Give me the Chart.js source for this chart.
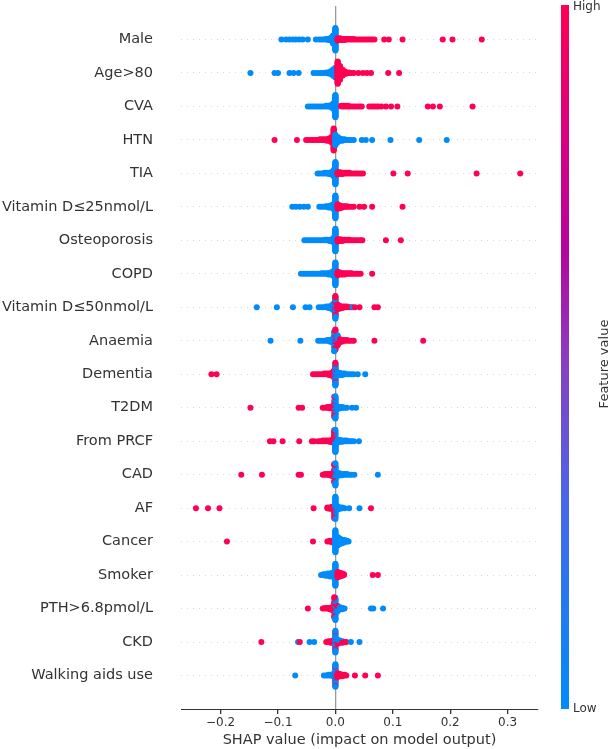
<!DOCTYPE html>
<html>
<head>
<meta charset="utf-8">
<script src="https://cdn.jsdelivr.net/npm/chart.js@4.4.0/dist/chart.umd.min.js"></script>
<style>
  html, body { margin: 0; padding: 0; background: #fff; }
  #wrap { width: 612px; height: 749px; }
</style>
</head>
<body>
<div id="wrap"><canvas id="shapChart" width="612" height="749"></canvas></div>
<script>
// feature names, top to bottom
const features = ['Male', 'Age>80', 'CVA', 'HTN', 'TIA', 'Vitamin D≤25nmol/L', 'Osteoporosis', 'COPD',
    'Vitamin D≤50nmol/L', 'Anaemia', 'Dementia', 'T2DM', 'From PRCF', 'CAD', 'AF', 'Cancer', 'Smoker',
    'PTH>6.8pmol/L', 'CKD', 'Walking aids use'];

const xTicks = [-0.2, -0.1, 0.0, 0.1, 0.2, 0.3];
const xMin = -0.269;
const xMax = 0.353;

// SHAP values for low feature values (blue), as [value, count]
const lowValues = [
    [[-0.094,1],[-0.086,1],[-0.080,1],[-0.074,1],[-0.069,1],[-0.063,1],[-0.057,1],[-0.048,1],[-0.034,1],[-0.028,1],[-0.024,1],[-0.020,1],[-0.016,2],[-0.012,3],[-0.008,6],[-0.004,15],[0,40]],
    [[-0.148,1],[-0.106,1],[-0.100,1],[-0.080,1],[-0.073,1],[-0.064,1],[-0.038,1],[-0.033,1],[-0.028,1],[-0.024,1],[-0.020,1],[-0.016,2],[-0.012,3],[-0.008,6],[-0.004,12],[0,18]],
    [[-0.048,1],[-0.044,1],[-0.040,1],[-0.036,1],[-0.032,1],[-0.028,1],[-0.024,1],[-0.020,1],[-0.016,2],[-0.012,2],[-0.008,4],[-0.004,10],[0,40]],
    [[0,15],[0.004,8],[0.008,4],[0.012,3],[0.016,2],[0.020,1],[0.024,1],[0.028,1],[0.032,1],[0.046,1],[0.053,1],[0.064,1],[0.096,1],[0.146,1],[0.194,1]],
    [[-0.031,1],[-0.027,1],[-0.023,1],[-0.019,2],[-0.015,2],[-0.011,3],[-0.007,5],[-0.003,12],[0,40]],
    [[-0.075,1],[-0.069,1],[-0.062,1],[-0.055,1],[-0.048,1],[-0.028,1],[-0.024,1],[-0.020,1],[-0.016,2],[-0.012,3],[-0.008,4],[-0.004,8],[0,35]],
    [[-0.054,1],[-0.050,1],[-0.046,1],[-0.042,1],[-0.038,1],[-0.034,1],[-0.030,1],[-0.026,1],[-0.022,1],[-0.018,2],[-0.014,2],[-0.010,3],[-0.006,5],[-0.002,12],[0,30]],
    [[-0.060,1],[-0.056,1],[-0.052,1],[-0.048,1],[-0.044,1],[-0.040,1],[-0.036,1],[-0.032,1],[-0.028,1],[-0.024,2],[-0.020,2],[-0.016,2],[-0.012,3],[-0.008,4],[-0.004,8],[0,35]],
    [[-0.137,1],[-0.102,1],[-0.074,1],[-0.052,1],[-0.045,1],[-0.029,1],[-0.024,1],[-0.020,1],[-0.016,2],[-0.012,3],[-0.008,5],[-0.004,10],[0,20],[0.030,1]],
    [[-0.113,1],[-0.061,1],[-0.030,1],[-0.026,1],[-0.022,1],[-0.018,1],[-0.014,2],[-0.010,3],[-0.006,5],[-0.002,12],[0.004,8]],
    [[0,25],[0.004,6],[0.008,4],[0.012,3],[0.016,2],[0.020,1],[0.024,1],[0.028,1],[0.032,1],[0.039,1],[0.052,1]],
    [[0,30],[0.004,5],[0.008,3],[0.012,2],[0.016,1],[0.020,1],[0.029,1],[0.036,1]],
    [[0,30],[0.004,5],[0.008,4],[0.012,3],[0.016,2],[0.020,2],[0.024,1],[0.028,1],[0.032,1],[0.041,1]],
    [[0,28],[0.004,6],[0.008,4],[0.012,3],[0.016,2],[0.020,2],[0.024,1],[0.028,1],[0.033,1],[0.074,1]],
    [[0,30],[0.004,6],[0.008,3],[0.012,2],[0.016,1],[0.024,1],[0.042,1]],
    [[0,30],[0.004,12],[0.008,8],[0.012,5],[0.016,4],[0.020,2],[0.023,1]],
    [[-0.025,1],[-0.021,2],[-0.017,3],[-0.013,4],[-0.009,5],[-0.005,6],[0,30]],
    [[0,25],[0.004,5],[0.008,4],[0.012,3],[0.016,1],[0.062,1],[0.066,1],[0.083,1]],
    [[-0.065,1],[-0.045,1],[-0.037,1],[0,22],[0.004,3],[0.008,2],[0.012,1],[0.027,1],[0.042,1]],
    [[-0.070,1],[-0.020,1],[-0.016,1],[-0.012,2],[-0.008,2],[-0.004,4],[0,25]]
];

// SHAP values for high feature values (red)
const highValues = [
    [[0.004,5],[0.008,4],[0.012,3],[0.016,3],[0.020,2],[0.024,2],[0.028,2],[0.032,2],[0.036,1],[0.040,1],[0.044,1],[0.048,1],[0.052,1],[0.056,1],[0.060,1],[0.064,1],[0.068,1],[0.085,1],[0.093,1],[0.117,1],[0.187,1],[0.204,1],[0.255,1]],
    [[0.004,40],[0.008,25],[0.012,12],[0.016,6],[0.020,3],[0.024,2],[0.028,1],[0.032,1],[0.040,1],[0.048,1],[0.055,1],[0.062,1],[0.092,1],[0.111,1]],
    [[0.010,2],[0.014,2],[0.018,2],[0.022,2],[0.026,1],[0.030,1],[0.034,1],[0.038,1],[0.042,1],[0.046,1],[0.059,1],[0.063,1],[0.067,1],[0.071,1],[0.075,1],[0.080,1],[0.088,1],[0.097,1],[0.108,1],[0.161,1],[0.170,1],[0.182,1],[0.239,1]],
    [[-0.106,1],[-0.067,1],[-0.051,1],[-0.047,1],[-0.043,1],[-0.039,1],[-0.035,1],[-0.031,1],[-0.027,2],[-0.023,2],[-0.019,2],[-0.015,3],[-0.011,4],[-0.007,8],[-0.003,30]],
    [[0.004,5],[0.008,4],[0.012,3],[0.016,2],[0.020,2],[0.024,2],[0.028,1],[0.032,1],[0.036,1],[0.040,1],[0.044,1],[0.048,1],[0.101,1],[0.126,1],[0.246,1],[0.322,1]],
    [[0.004,8],[0.008,5],[0.012,3],[0.016,2],[0.020,2],[0.024,1],[0.028,1],[0.032,1],[0.042,1],[0.050,1],[0.064,1],[0.117,1]],
    [[0.004,5],[0.008,4],[0.012,3],[0.016,2],[0.020,2],[0.024,2],[0.028,1],[0.032,1],[0.036,1],[0.040,1],[0.044,1],[0.047,1],[0.088,1],[0.114,1]],
    [[0.004,6],[0.008,4],[0.012,3],[0.016,3],[0.020,2],[0.024,2],[0.028,2],[0.032,1],[0.036,1],[0.040,1],[0.044,1],[0.064,1]],
    [[0,15],[0.004,8],[0.008,5],[0.012,3],[0.016,2],[0.020,2],[0.024,1],[0.028,1],[0.034,1],[0.042,1],[0.068,1],[0.074,1]],
    [[0,18],[0.004,6],[0.008,5],[0.012,3],[0.016,2],[0.020,2],[0.024,1],[0.028,1],[0.032,1],[0.068,1],[0.153,1]],
    [[-0.216,1],[-0.207,1],[-0.039,1],[-0.035,1],[-0.031,1],[-0.027,1],[-0.023,1],[-0.019,2],[-0.015,2],[-0.011,3],[-0.007,5],[-0.003,10],[0,10]],
    [[-0.148,1],[-0.064,1],[-0.058,1],[-0.022,1],[-0.018,1],[-0.014,2],[-0.010,3],[-0.006,4],[-0.002,8]],
    [[-0.114,1],[-0.108,1],[-0.092,1],[-0.063,1],[-0.041,1],[-0.037,1],[-0.030,1],[-0.026,1],[-0.022,2],[-0.018,2],[-0.014,2],[-0.010,3],[-0.006,5],[-0.002,10]],
    [[-0.164,1],[-0.128,1],[-0.064,1],[-0.060,1],[-0.022,1],[-0.018,2],[-0.014,2],[-0.010,3],[-0.006,5],[-0.002,8]],
    [[-0.243,1],[-0.222,1],[-0.202,1],[-0.038,1],[-0.014,2],[-0.010,3],[-0.006,4],[-0.002,6],[0.062,1]],
    [[-0.189,1],[-0.039,1],[-0.014,1],[-0.010,2],[-0.006,3]],
    [[0.004,8],[0.008,6],[0.012,4],[0.015,2],[0.065,1],[0.074,1]],
    [[-0.048,1],[-0.022,1],[-0.018,2],[-0.014,2],[-0.010,3],[-0.006,5],[-0.002,10],[0.004,4]],
    [[-0.129,1],[-0.062,1],[-0.016,1],[-0.012,2],[-0.008,3],[-0.004,4],[0,6],[0.004,3],[0.008,2],[0.012,2],[0.016,1],[0.019,1]],
    [[0,6],[0.004,6],[0.008,4],[0.012,3],[0.016,2],[0.019,1],[0.034,1],[0.052,1],[0.074,1]]
];

const RED = '#ff0052';
const BLUE = '#008bfb';
const FONT = 'DejaVu Sans';
const binWidth = 0.004;

// beeswarm: stack points that fall in the same bin around the row line
function swarmRow(i) {
    const bins = new Map();
    const add = (list, isHigh) => list.forEach(([x, n]) => {
        const b = Math.round(x / binWidth);
        if (!bins.has(b)) bins.set(b, { lo: [], hi: [] });
        for (let k = 0; k < n; k++) bins.get(b)[isHigh ? 'hi' : 'lo'].push(x);
    });
    add(lowValues[i], false);
    add(highValues[i], true);

    const pts = [];
    let maxOff = 0;
    [...bins.keys()].sort((a, b) => a - b).forEach(b => {
        const { lo, hi } = bins.get(b);
        let nl = 0, nh = 0;
        for (let layer = 0; layer < lo.length + hi.length; layer++) {
            const takeHi = nh < hi.length &&
                (nl >= lo.length || (nh + 0.5) / hi.length <= (nl + 0.5) / lo.length);
            const x = takeHi ? hi[nh++] : lo[nl++];
            const off = Math.ceil(layer / 2) * (layer % 2 ? 1 : -1);
            maxOff = Math.max(maxOff, off);
            pts.push({ x, off, hi: takeHi });
        }
    });
    const scale = 0.36 / (maxOff + 1);
    const yBase = features.length - 1 - i;
    return pts.map(p => ({ x: p.x, y: yBase + p.off * scale, hi: p.hi }));
}

const allPoints = features.flatMap((f, i) => swarmRow(i));

const colorBar = {
    id: 'colorBar',
    afterDraw(chart) {
        const ctx = chart.ctx;
        const top = 5, bottom = 709, left = 561, w = 8;
        const g = ctx.createLinearGradient(0, bottom, 0, top);
        g.addColorStop(0, '#008bfb');
        g.addColorStop(0.3, '#4a66e8');
        g.addColorStop(0.5, '#8c3dc1');
        g.addColorStop(0.65, '#b4059f');
        g.addColorStop(0.82, '#da0080');
        g.addColorStop(1, '#ff0052');
        ctx.save();
        ctx.fillStyle = g;
        ctx.fillRect(left, top, w, bottom - top);
        ctx.fillStyle = '#333';
        ctx.font = '12px "' + FONT + '"';
        ctx.textAlign = 'left';
        ctx.textBaseline = 'middle';
        ctx.fillText('High', left + w + 4, top + 2);
        ctx.fillText('Low', left + w + 4, bottom);
        ctx.translate(605, 364);
        ctx.rotate(-Math.PI / 2);
        ctx.textAlign = 'center';
        ctx.font = '13px "' + FONT + '"';
        ctx.fillText('Feature value', 0, 0);
        ctx.restore();
    }
};

new Chart(document.getElementById('shapChart').getContext('2d'), {
    type: 'scatter',
    data: {
        datasets: [{
            data: allPoints,
            backgroundColor: allPoints.map(p => p.hi ? RED : BLUE),
            pointRadius: 3,
            pointHoverRadius: 3,
            borderWidth: 0
        }]
    },
    options: {
        responsive: false,
        animation: false,
        devicePixelRatio: 1,
        layout: { padding: { top: 6, right: 74, left: 0, bottom: 0 } },
        plugins: {
            legend: { display: false },
            tooltip: { enabled: false }
        },
        scales: {
            x: {
                type: 'linear',
                min: xMin,
                max: xMax,
                afterBuildTicks: ax => { ax.ticks = xTicks.map(v => ({ value: v })); },
                afterFit: s => { s.height = 40; },
                grid: {
                    color: c => (c.tick && Math.abs(c.tick.value) < 1e-9) ? '#999' : 'rgba(0,0,0,0)',
                    lineWidth: 1.3,
                    tickColor: '#333',
                    tickLength: 5
                },
                border: { display: true, color: '#333', width: 1 },
                ticks: {
                    font: { family: FONT, size: 12 },
                    color: '#333',
                    padding: 2,
                    callback: v => (v < -1e-9 ? '\u2212' : '') + Math.abs(v).toFixed(1)
                },
                title: {
                    display: true,
                    text: 'SHAP value (impact on model output)',
                    font: { family: FONT, size: 14.5 },
                    color: '#333',
                    padding: { top: 0, bottom: 0 }
                }
            },
            y: {
                type: 'linear',
                min: -1,
                max: features.length,
                afterBuildTicks: ax => { ax.ticks = features.map((f, i) => ({ value: features.length - 1 - i })); },
                afterFit: s => { s.width = 181; s.paddingTop = 0; s.paddingBottom = 0; },
                grid: { color: '#d8d8d8', lineWidth: 1, drawTicks: false },
                border: { display: false, dash: [1, 5] },
                ticks: {
                    font: { family: FONT, size: 14.5 },
                    color: '#333',
                    padding: 28,
                    callback: v => features[features.length - 1 - Math.round(v)]
                }
            }
        }
    },
    plugins: [colorBar]
});
</script>
</body>
</html>
